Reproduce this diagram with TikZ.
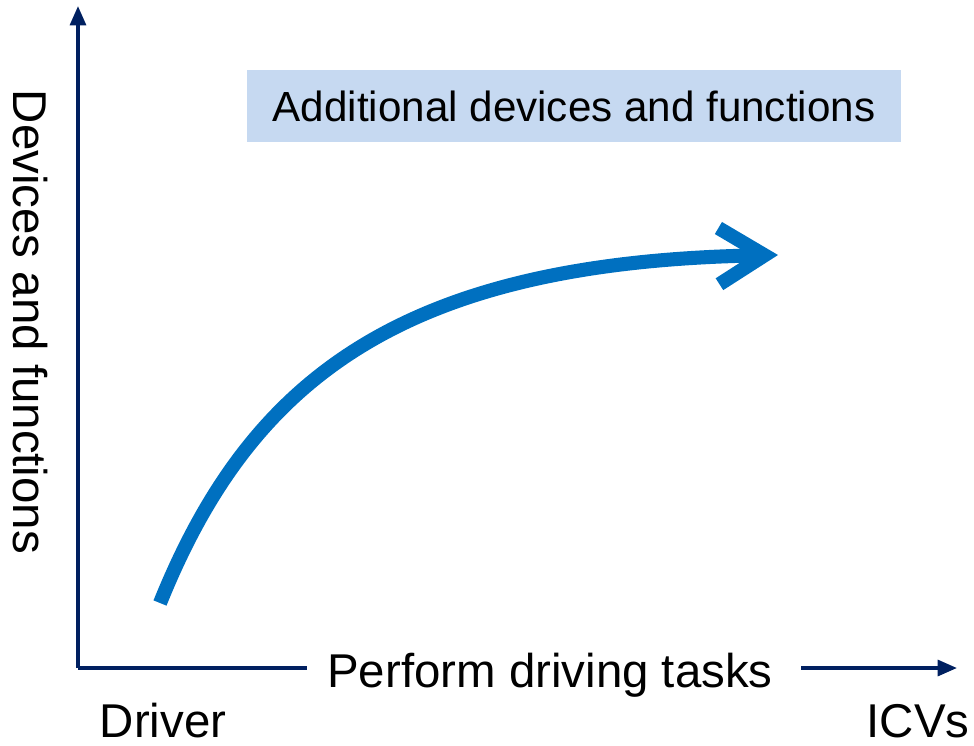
\documentclass[tikz,border=0pt]{standalone}
\usepackage{fontspec}
\setmainfont{Liberation Sans}
\usetikzlibrary{arrows.meta}

\definecolor{axisblue}{HTML}{002060}
\definecolor{curveblue}{HTML}{0070C0}
\definecolor{boxblue}{HTML}{C6D9F1}

\begin{document}
\begin{tikzpicture}[
            x = 0.02cm, % one unit per pixel
            y = -0.02cm,
            line join = round
        ]

        \tikzstyle{axis}=[
            draw = axisblue,
            line width = 2pt
        ]
        \tikzstyle{axis tip}=[
            -{Triangle[length=11pt, width=9pt]}
        ]
        \tikzstyle{label}=[
            font = \fontsize{27}{32}\selectfont,
            inner sep = 0pt
        ]
        \tikzstyle{curve}=[
            draw = curveblue,
            line width = 8pt,
            -{Straight Barb[length=26pt, width=32pt]}
        ]

        \useasboundingbox (0,0) rectangle (974,745);

        \coordinate (o) at (78,668);
        \coordinate (ytop) at (78,6);
        \coordinate (xend) at (957,668);
        \node (xlabel) [label, anchor=base] at (550,687) {Perform driving tasks};
        \node (ylabel) [label, rotate=-90] at (30,322) {Devices and functions};
        \node (driver) [label, anchor=base] at (163,737) {Driver};
        \node (icv) [label, anchor=base] at (918,737) {ICVs};
        \node (extra) [fill=boxblue, minimum width=13.1cm, minimum height=1.44cm,
            font=\fontsize{24}{29}\selectfont] at (574,106) {Additional devices and functions};

        \coordinate (start) at (160,603);
        \coordinate (end) at (778,255);

        \draw[axis, axis tip] (o) -- (ytop);
        \draw[axis] (o) -- ([xshift=-0.4cm]xlabel.west |- o);
        \draw[axis, axis tip] ([xshift=0.56cm]xlabel.east |- o) -- (xend);
        \draw[curve] (start) .. controls (250,380) and (400,262) .. (end);

    \end{tikzpicture}
\end{document}
